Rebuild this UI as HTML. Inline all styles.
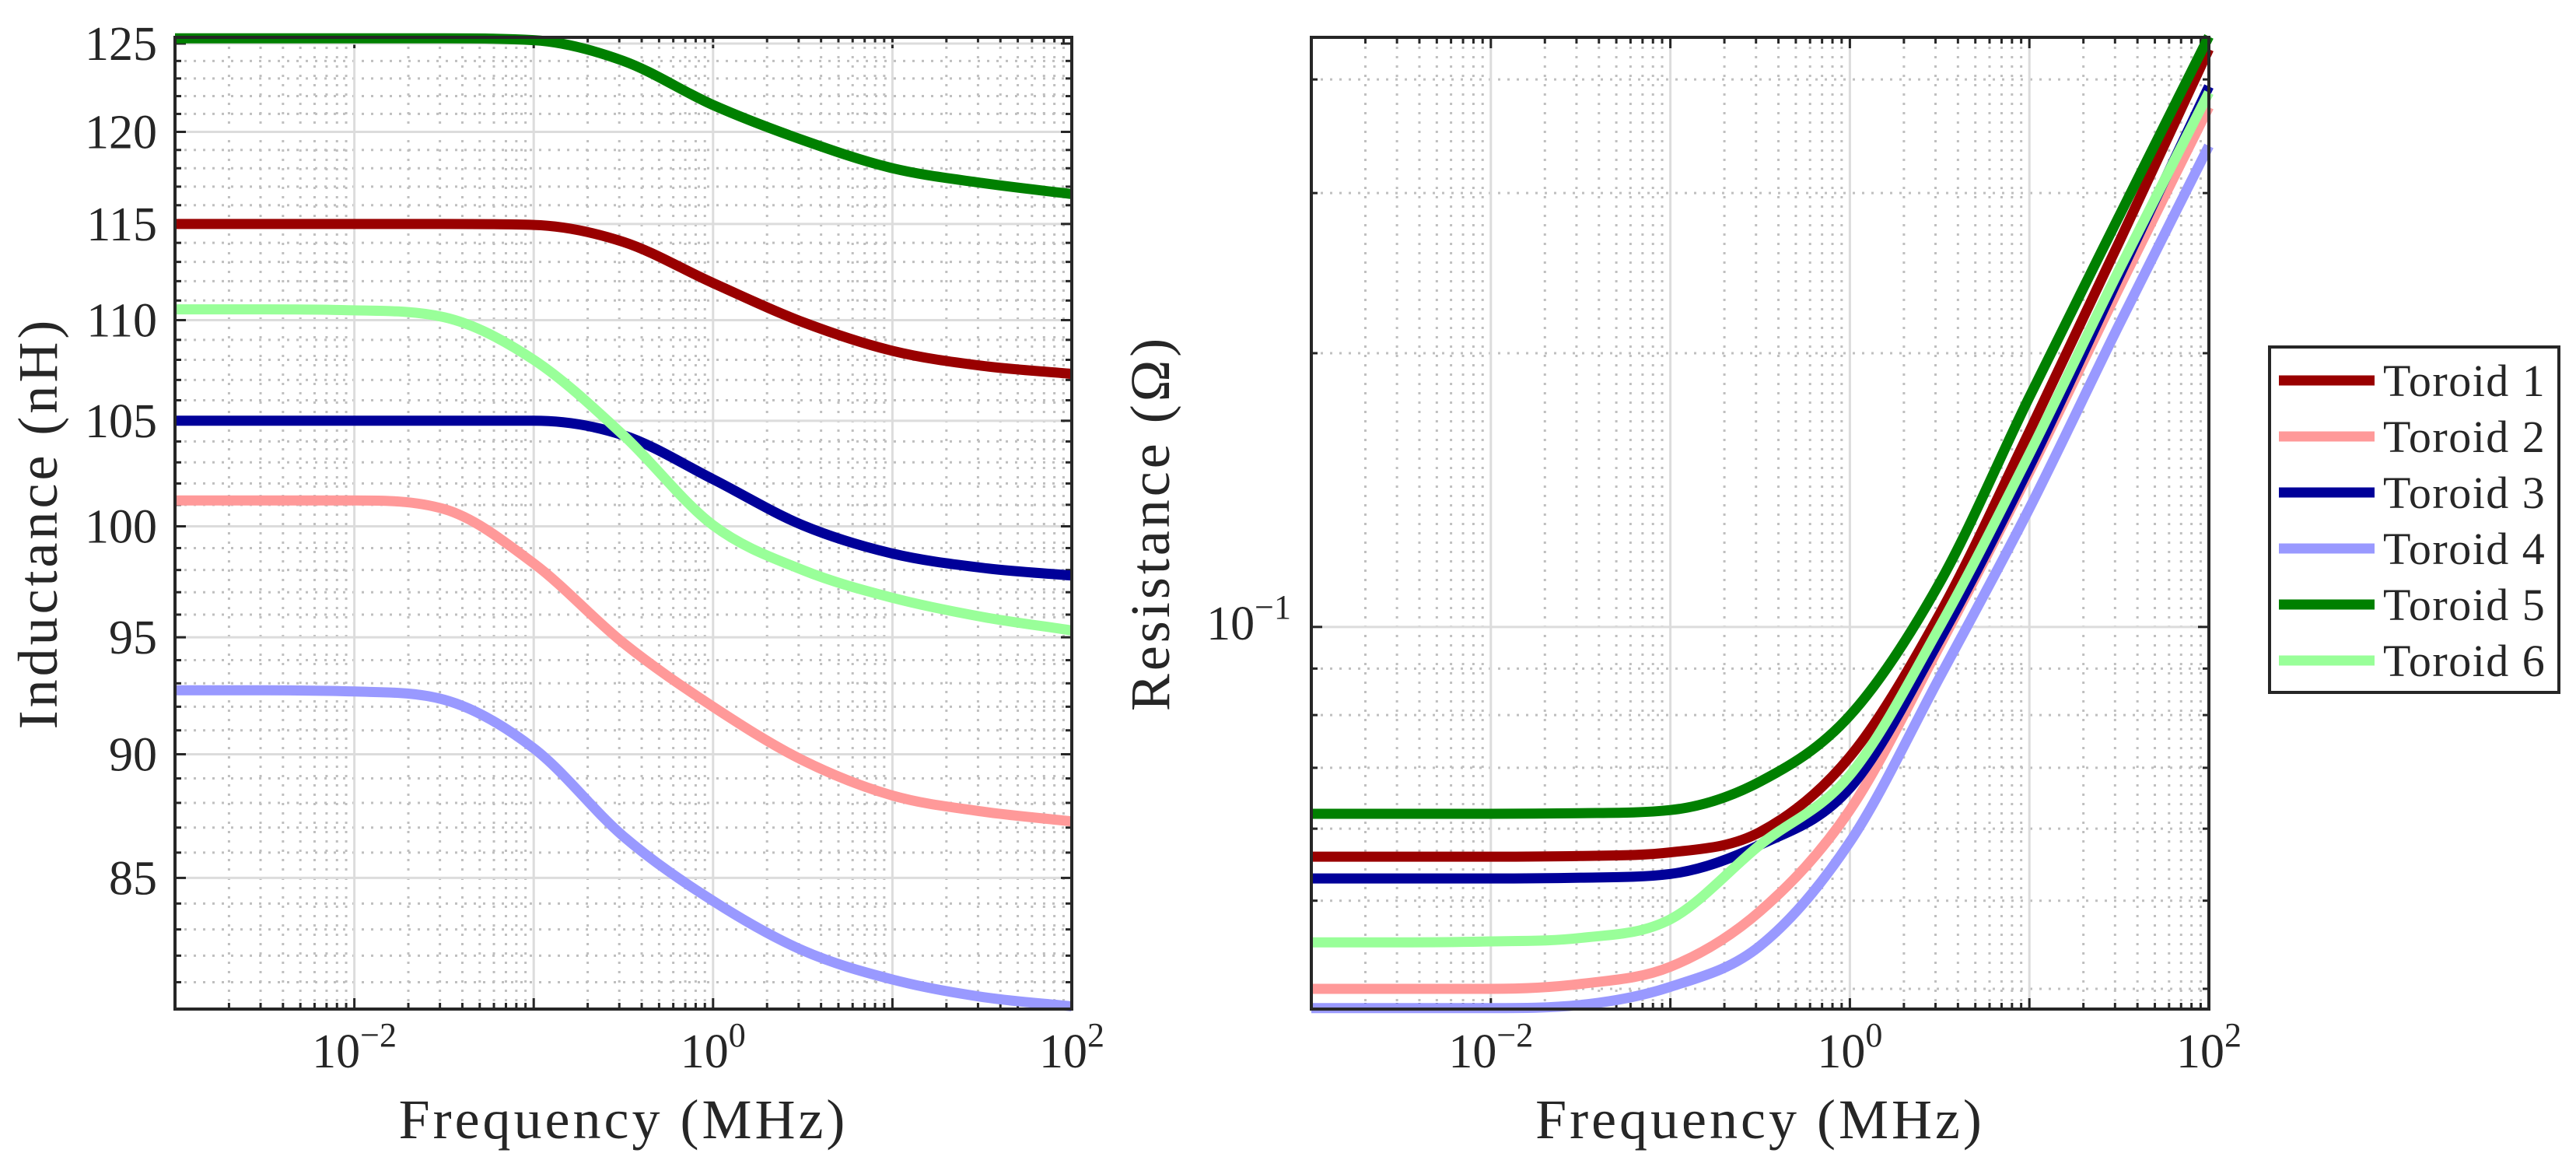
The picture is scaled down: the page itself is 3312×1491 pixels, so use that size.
<!DOCTYPE html>
<html><head><meta charset="utf-8"><style>
html,body{margin:0;padding:0;background:#fff;}
svg{display:block;}
text{font-family:"Liberation Serif","DejaVu Serif",serif;fill:#262626;}
</style></head><body>
<svg id="fig" width="3312" height="1491" viewBox="0 0 3312 1491" xmlns="http://www.w3.org/2000/svg">
<g id="left"></g>
<g id="right"></g>
<g id="legend"></g>
</svg>
<script>
const freqExp = [-3,-2.5,-2,-1.5,-1,-0.5,0,0.5,1,1.5,2];
const seriesNames = ["Toroid 1","Toroid 2","Toroid 3","Toroid 4","Toroid 5","Toroid 6"];
const indT1 = [115,115,115,115,114.95,114.05,111.9,109.9,108.45,107.7,107.3];
const indT2 = [101.2,101.2,101.2,100.8,98.3,94.75,92.0,89.75,88.3,87.65,87.25];
const indT3 = [105,105,105,105,105,104.3,102.2,100.05,98.75,98.1,97.75];
const indT4 = [92.7,92.7,92.65,92.3,90.25,86.65,84.1,82.2,81.1,80.45,80.1];
const indT5 = [125.3,125.3,125.3,125.3,125.2,124.0,121.5,119.55,118.0,117.2,116.6];
const indT6 = [110.55,110.55,110.5,110.15,108.0,104.3,100.05,98.0,96.75,95.9,95.3];
const resT1 = [0.0559,0.0559,0.0559,0.056,0.0565,0.0595,0.072,0.1033,0.164,0.265,0.432];
const resT2 = [0.0400,0.0400,0.0400,0.0405,0.0423,0.0487,0.0629,0.0953,0.148,0.236,0.373];
const resT3 = [0.0529,0.0529,0.0529,0.053,0.0535,0.0576,0.0665,0.0968,0.150,0.243,0.393];
const resT4 = [0.0381,0.0381,0.0381,0.0384,0.0402,0.0446,0.058,0.088,0.135,0.215,0.338];
const resT5 = [0.0623,0.0623,0.0623,0.0624,0.0629,0.0676,0.0799,0.1118,0.179,0.283,0.446];
const resT6 = [0.0450,0.0450,0.0451,0.0455,0.0477,0.0576,0.0687,0.100,0.155,0.247,0.387];
const indYTicks = [85,90,95,100,105,110,115,120,125];
const xTickExps = [-2,0,2];
const resYTickExps = [-1];

const colors = ["#990000","#ff9999","#000099","#9999ff","#008000","#99ff99"];
const NS = "http://www.w3.org/2000/svg";
function mk(parent, tag, attrs){const e=document.createElementNS(NS,tag);for(const k in attrs)e.setAttribute(k,attrs[k]);parent.appendChild(e);return e;}

const XMIN=-3, XMAX=2;
const L={x0:225,x1:1378,y0:48,y1:1297,ymin:80,ymax:125.36};
const R={x0:1686,x1:2840,y0:48,y1:1297,ymin:0.038,ymax:0.445};
function xs(ax,e){return ax.x0+(e-XMIN)/(XMAX-XMIN)*(ax.x1-ax.x0);}
function ys(ax,v){return ax.y0+(Math.log(ax.ymax)-Math.log(v))/(Math.log(ax.ymax)-Math.log(ax.ymin))*(ax.y1-ax.y0);}

function pathFrom(pts){
  const n=pts.length, d=[], m=new Array(n);
  for(let i=0;i<n-1;i++){d.push((pts[i+1][1]-pts[i][1])/(pts[i+1][0]-pts[i][0]));}
  m[0]=d[0]; m[n-1]=d[n-2];
  for(let i=1;i<n-1;i++){ m[i]=(d[i-1]*d[i]<=0)?0:(d[i-1]+d[i])/2; }
  for(let i=0;i<n-1;i++){
    if(d[i]===0){m[i]=0;m[i+1]=0;continue;}
    const a=m[i]/d[i], b=m[i+1]/d[i], s=a*a+b*b;
    if(s>9){const t=3/Math.sqrt(s);m[i]=t*a*d[i];m[i+1]=t*b*d[i];}
  }
  let p="M"+pts[0][0].toFixed(1)+","+pts[0][1].toFixed(1);
  for(let i=0;i<n-1;i++){
    const h=(pts[i+1][0]-pts[i][0])/3;
    p+=" C"+(pts[i][0]+h).toFixed(1)+","+(pts[i][1]+m[i]*h).toFixed(1)+" "+(pts[i+1][0]-h).toFixed(1)+","+(pts[i+1][1]-m[i+1]*h).toFixed(1)+" "+pts[i+1][0].toFixed(1)+","+pts[i+1][1].toFixed(1);
  }
  return p;
}

function drawAxes(g, ax, minorY, majorY){
  for(let e=XMIN;e<XMAX;e++){for(let m=2;m<=9;m++){const x=xs(ax,e+Math.log10(m));
    const l=mk(g,"line",{x1:x,x2:x,y1:ax.y0,y2:ax.y1,stroke:"#bfbfbf","stroke-width":3,"stroke-dasharray":"3 9"});
    
    
    mk(g,"line",{x1:x,x2:x,y1:ax.y1,y2:ax.y1-8,stroke:"#262626","stroke-width":3});
    mk(g,"line",{x1:x,x2:x,y1:ax.y0,y2:ax.y0+8,stroke:"#262626","stroke-width":3});
  }}
  minorY.forEach(v=>{const y=ys(ax,v);
    const l=mk(g,"line",{x1:ax.x0,x2:ax.x1,y1:y,y2:y,stroke:"#bfbfbf","stroke-width":3,"stroke-dasharray":"3 9"});
    
    
    mk(g,"line",{x1:ax.x0,x2:ax.x0+8,y1:y,y2:y,stroke:"#262626","stroke-width":3});
    mk(g,"line",{x1:ax.x1,x2:ax.x1-8,y1:y,y2:y,stroke:"#262626","stroke-width":3});
  });
  for(let e=XMIN;e<=XMAX;e++){const x=xs(ax,e);
    const l=mk(g,"line",{x1:x,x2:x,y1:ax.y0,y2:ax.y1,stroke:"#dcdcdc","stroke-width":3});
    
    
    mk(g,"line",{x1:x,x2:x,y1:ax.y1,y2:ax.y1-14,stroke:"#262626","stroke-width":3});
    mk(g,"line",{x1:x,x2:x,y1:ax.y0,y2:ax.y0+14,stroke:"#262626","stroke-width":3});
  }
  majorY.forEach(v=>{const y=ys(ax,v);
    const l=mk(g,"line",{x1:ax.x0,x2:ax.x1,y1:y,y2:y,stroke:"#dcdcdc","stroke-width":3});
    
    
    mk(g,"line",{x1:ax.x0,x2:ax.x0+14,y1:y,y2:y,stroke:"#262626","stroke-width":3});
    mk(g,"line",{x1:ax.x1,x2:ax.x1-14,y1:y,y2:y,stroke:"#262626","stroke-width":3});
  });
}
function drawFrame(g,ax){
  const r=mk(g,"rect",{x:ax.x0,y:ax.y0,width:ax.x1-ax.x0,height:ax.y1-ax.y0,fill:"none",stroke:"#262626","stroke-width":4});
  
  
}
function xTickLabels(g,ax){
  xTickExps.forEach(e=>{const x=xs(ax,e);
    const t=mk(g,"text",{x:x,y:1372,"font-size":62,"text-anchor":"middle"});
    
    
    const a=mk(t,"tspan",{});a.textContent="10";
    const b=mk(t,"tspan",{dy:-27,"font-size":44});b.textContent=(e<0?"\u2212":"")+Math.abs(e);
  });
}
function drawSeries(g,ax,arrs,prefix){
  arrs.forEach((vals,i)=>{
    const pts=freqExp.map((e,j)=>[xs(ax,e),ys(ax,vals[j])]);
    const p=mk(g,"path",{d:pathFrom(pts),fill:"none",stroke:colors[i],"stroke-width":13,"stroke-linejoin":"round"});
    
    
  });
}

const gl=document.getElementById("left");
const lMinor=[];for(let v=81;v<=125;v++){if(v%5!==0)lMinor.push(v);}
drawAxes(gl,L,lMinor,indYTicks);
drawSeries(gl,L,[indT1,indT2,indT3,indT4,indT5,indT6],"inductance");
drawFrame(gl,L);
indYTicks.forEach(v=>{const t=mk(gl,"text",{x:202,y:ys(L,v)+21,"font-size":62,"text-anchor":"end"});t.textContent=v;
  
  });
xTickLabels(gl,L);
let t=mk(gl,"text",{x:(L.x0+L.x1)/2,y:1463,"font-size":72,"text-anchor":"middle","letter-spacing":4});t.textContent="Frequency (MHz)";


t=mk(gl,"text",{x:0,y:0,"font-size":72,"text-anchor":"middle","letter-spacing":4,transform:"translate(73,"+((L.y0+L.y1)/2)+") rotate(-90)"});t.textContent="Inductance (nH)";



const gr=document.getElementById("right");
drawAxes(gr,R,[0.04,0.05,0.06,0.07,0.08,0.09,0.2,0.3,0.4],[0.1]);
drawSeries(gr,R,[resT1,resT2,resT3,resT4,resT5,resT6],"resistance");
drawFrame(gr,R);
resYTickExps.forEach(e=>{const y=ys(R,Math.pow(10,e));
  const tt=mk(gr,"text",{x:1660,y:y+16,"font-size":62,"text-anchor":"end"});
  
  
  const a=mk(tt,"tspan",{});a.textContent="10";
  const b=mk(tt,"tspan",{dy:-27,"font-size":44});b.textContent=(e<0?"\u2212":"")+Math.abs(e);
});
xTickLabels(gr,R);
t=mk(gr,"text",{x:(R.x0+R.x1)/2,y:1463,"font-size":72,"text-anchor":"middle","letter-spacing":4});t.textContent="Frequency (MHz)";


t=mk(gr,"text",{x:0,y:0,"font-size":72,"text-anchor":"middle","letter-spacing":4,transform:"translate(1503,"+((R.y0+R.y1)/2)+") rotate(-90)"});t.textContent="Resistance (\u03A9)";



const lg=document.getElementById("legend");
const box=mk(lg,"rect",{x:2918,y:446,width:372,height:444,fill:"#fff",stroke:"#262626","stroke-width":4});


seriesNames.forEach((n,i)=>{const y=489+i*72;
  const ln=mk(lg,"line",{x1:2930,x2:3053,y1:y,y2:y,stroke:colors[i],"stroke-width":13});
  
  
  const tx=mk(lg,"text",{x:3064,y:y+20,"font-size":58,"letter-spacing":1.5});tx.textContent=n;
  
  
});
</script>
</body></html>
